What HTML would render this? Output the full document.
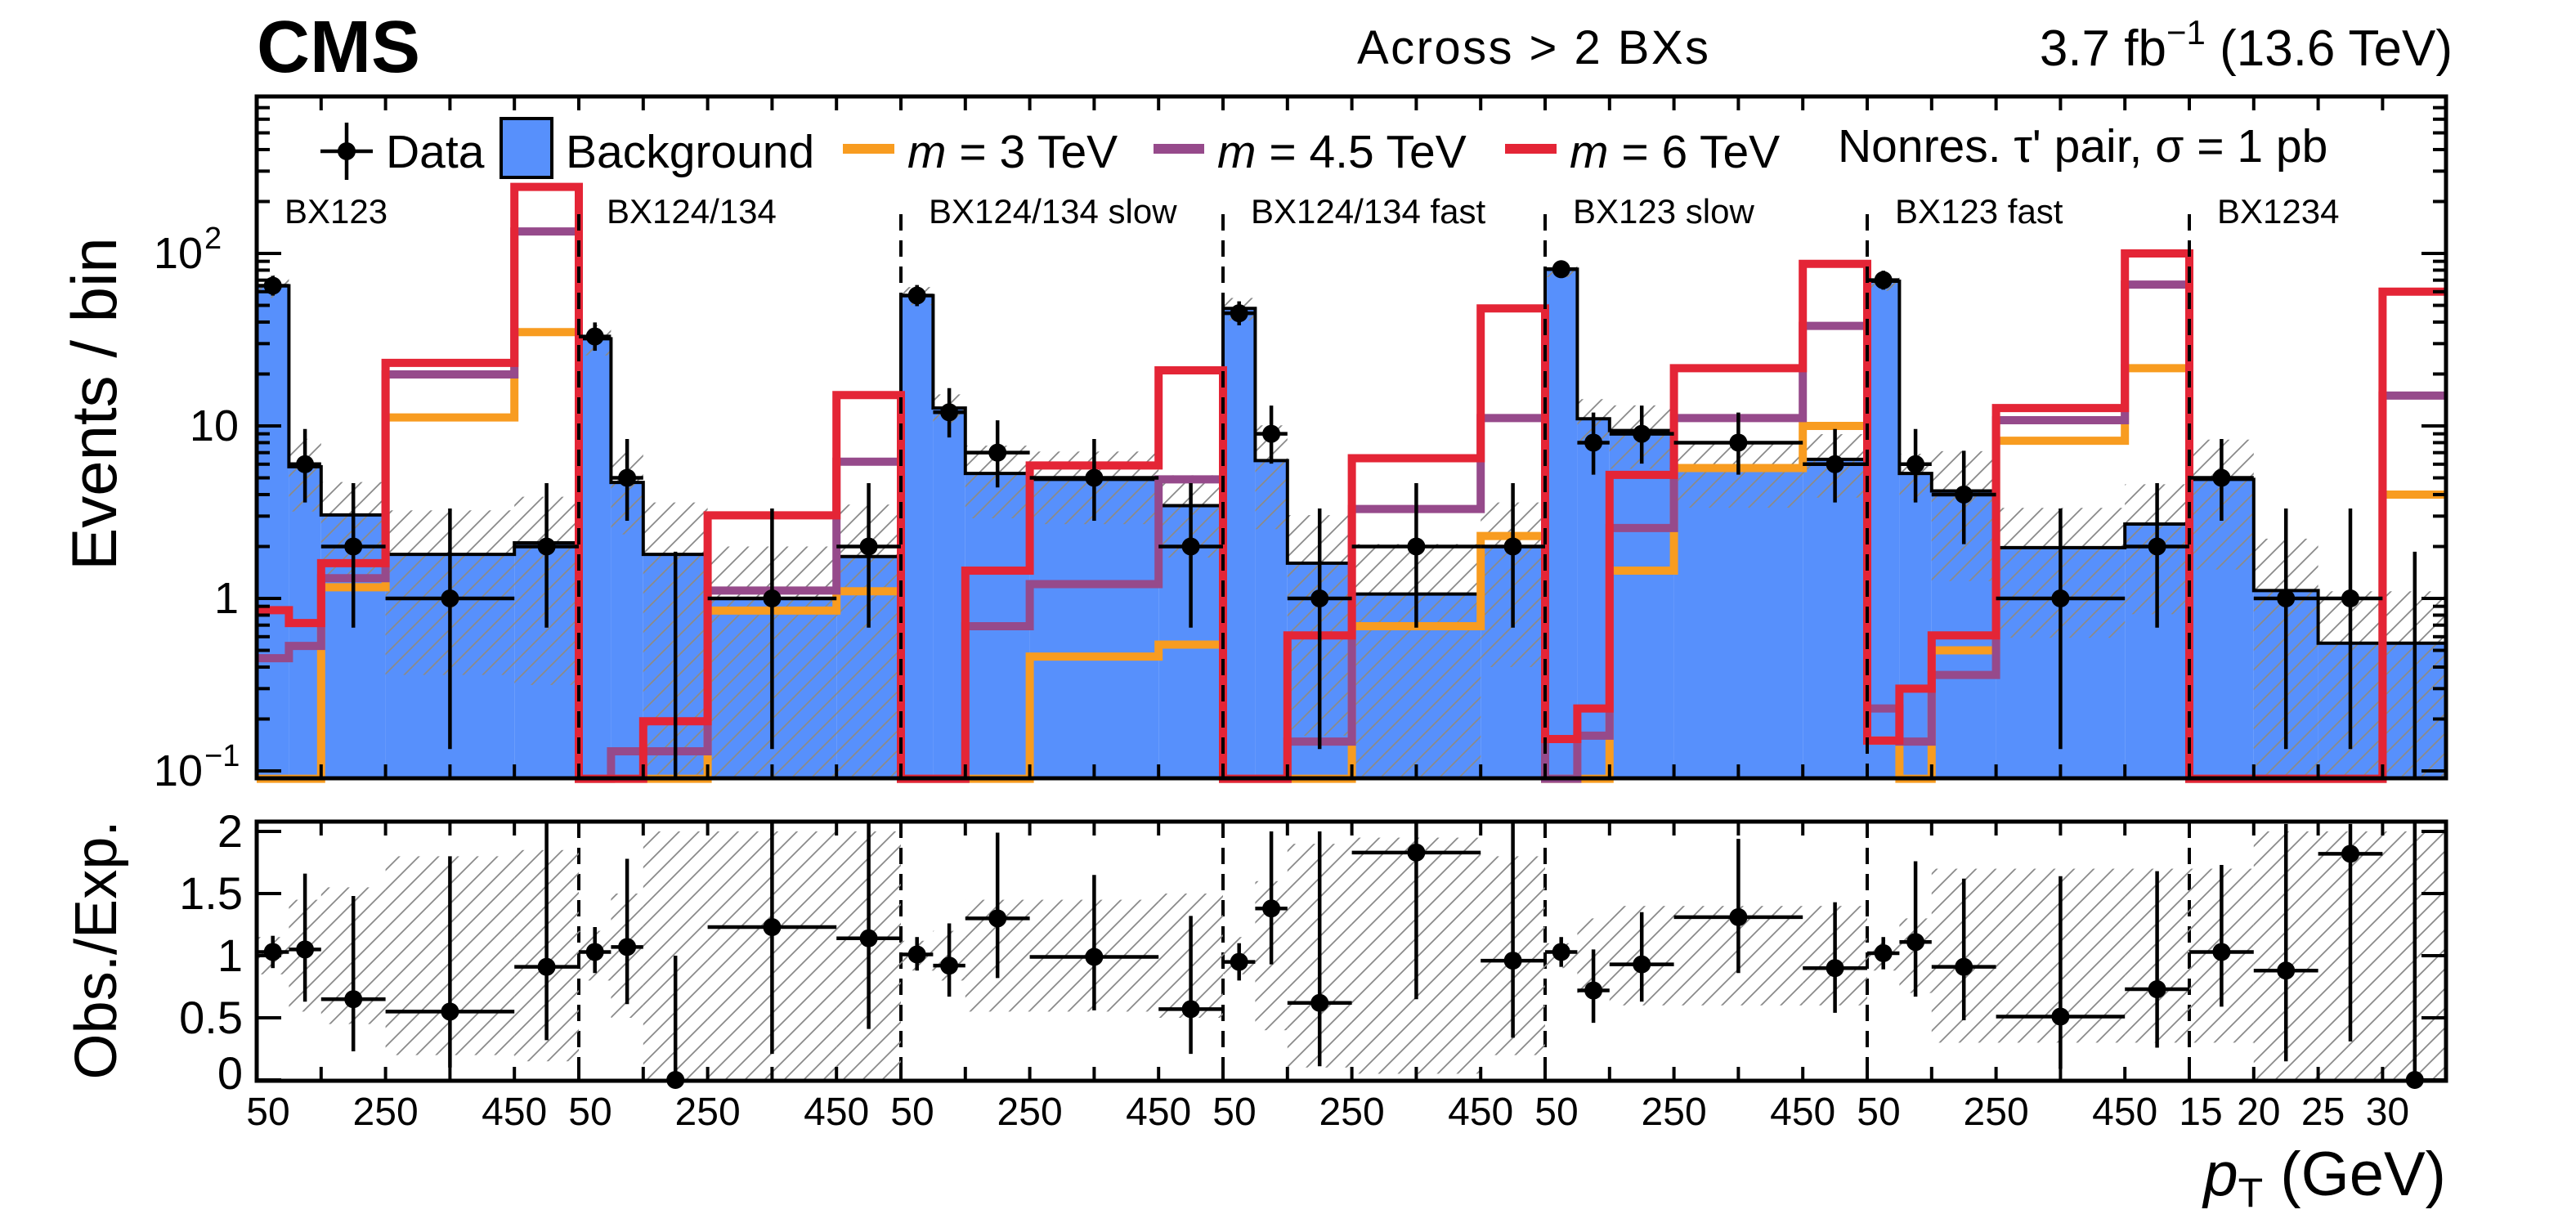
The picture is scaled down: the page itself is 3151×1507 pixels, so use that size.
<!DOCTYPE html>
<html><head><meta charset="utf-8"><style>
html,body{margin:0;padding:0;background:#fff}
svg{display:block;font-family:"Liberation Sans",Arial,sans-serif}
</style></head><body>
<svg id="chart" xmlns="http://www.w3.org/2000/svg" width="3151" height="1507" viewBox="0 0 3151 1507">
<defs>
<pattern id="hatch" patternUnits="userSpaceOnUse" width="24" height="24">
<path d="M-6,6 L6,-6 M0,24 L24,0 M18,30 L30,18" stroke="#8a8a8a" stroke-width="1.8"/>
</pattern>
<clipPath id="clipTop"><rect x="314" y="118" width="2678" height="834"/></clipPath>
<clipPath id="clipRat"><rect x="314" y="1005" width="2678" height="317"/></clipPath>
</defs>
<text x="314" y="88" font-size="90" font-weight="bold">CMS</text>
<text x="1875" y="78" font-size="58" text-anchor="middle" textLength="430">Across &gt; 2 BXs</text>
<text x="3000" y="80" font-size="62" text-anchor="end">3.7 fb<tspan dy="-26" font-size="42">−1</tspan><tspan dy="26"> (13.6 TeV)</tspan></text>
<text transform="translate(142,494) rotate(-90)" font-size="78" text-anchor="middle">Events / bin</text>
<text transform="translate(142,1162) rotate(-90)" font-size="72" text-anchor="middle" textLength="317">Obs./Exp.</text>
<text x="2992" y="1462" font-size="76" text-anchor="end"><tspan font-style="italic">p</tspan><tspan font-size="50" dy="14">T</tspan><tspan dy="-14"> (GeV)</tspan></text>
<g id="plot"></g>
</svg>
<script>
// ---- data ----
const regionNames = ["BX123","BX124/134","BX124/134 slow","BX124/134 fast","BX123 slow","BX123 fast","BX1234"];
const ptEdgesStd = [50,100,150,250,450,550];
const ptEdgesLast = [15,20,25,30,35];
const bgVals = [[65,5.8,3.05,1.8,2.1],[32,4.7,1.8,1.0,1.75],[57,12.7,5.3,4.9,3.45],[48,6.3,1.6,1.06,2.0],[81,11,9.4,5.6,6.4],[69,5.3,4.2,1.97,2.7],[4.9,1.11,0.55,0.55]];
const bgUnc = [[.15,.45,.55,.8,.85],[.2,.5,1,1,1],[.12,.2,.45,.45,.5],[.15,.6,.9,.95,.8],[.1,.3,.4,.4,.4],[.12,.3,.7,.7,.7],[.7,1,1,1]];
const dataVals = [[65,6,2,1,2],[33,5,0,1,2],[57,12,7,5,2],[45,9,1,2,2],[81,8,9,8,6],[70,6,4,1,2],[5,1,1,0]];
const sig3 = [[0.09,0.09,1.16,11.2,35],[0.09,0.09,0.09,0.85,1.1],[0.09,0.09,0.09,0.46,0.54],[0.09,0.09,0.09,0.69,2.3],[0.09,0.09,1.45,5.7,10],[0.15,0.09,0.5,8.2,21.6],[0.09,0.09,0.09,4.0]];
const sig45 = [[0.45,0.53,1.31,19.9,134],[0.09,0.13,0.13,1.11,6.2],[0.09,0.09,0.69,1.21,4.9],[0.09,0.09,0.148,3.3,11.1],[0.09,0.16,2.56,11.1,38],[0.23,0.148,0.36,10.8,66],[0.09,0.09,0.09,15]];
const sig6 = [[0.855,0.72,1.6,23.2,243],[0.09,0.09,0.194,3.03,15.1],[0.09,0.09,1.45,5.9,21],[0.09,0.09,0.61,6.5,48],[0.153,0.23,5.2,21.6,87],[0.15,0.3,0.61,12.7,100],[0.09,0.09,0.09,60]];
const ratioVals = [[1.03,1.05,0.65,0.55,0.91],[1.03,1.07,0,1.23,1.14],[1.01,0.92,1.30,0.99,0.57],[0.95,1.38,0.62,1.83,0.96],[1.03,0.72,0.93,1.31,0.90],[1.02,1.11,0.91,0.51,0.73],[1.03,0.88,1.82,0]];
const ratioHi = [[1.16,1.66,1.48,1.80,2.07],[1.23,1.78,1.0,2.08,2.08],[1.15,1.26,1.99,1.65,1.32],[1.10,2.0,2.0,2.07,2.07],[1.15,1.05,1.35,1.94,1.43],[1.15,1.76,1.62,1.64,1.68],[1.73,2.06,2.06,2.1]];
const ratioLo = [[0.90,0.63,0.23,0.10,0.32],[0.86,0.61,0,0.21,0.41],[0.88,0.67,0.82,0.56,0.21],[0.80,0.93,0.11,0.65,0.34],[0.91,0.46,0.63,0.86,0.54],[0.89,0.67,0.48,0.09,0.26],[0.59,0.15,0.31,0]];
const yTickLabels = ["10","1","10","10"];
const ratioTicks = [0,0.5,1,1.5,2];
const xTickLabelsStd = ["50","250","450"];
const xTickLabelsLast = ["15","20","25","30"];

// ---- axes ----
const X0=314, X1=2992, UNIT=78.8, TOP=118, BOT=952, RTOP=1005, RBOT=1322;
const NS="http://www.w3.org/2000/svg";
const plot=document.getElementById('plot');
function xAt(region, pt){
  const u = region<6 ? (pt-50)/100 : (pt-15)/5;
  return X0 + (region*5 + u)*UNIT;
}
function yLog(v){ return 943 - (Math.log10(v)+1)*211; }
function yR(r){ return 1321 - r*152; }
function el(tag, attrs, parent){
  const e=document.createElementNS(NS,tag);
  for(const k in attrs) e.setAttribute(k,attrs[k]);
  (parent||plot).appendChild(e); return e;
}
function edgesOf(r){ return r<6 ? ptEdgesStd : ptEdgesLast; }
const gTop=el('g',{'clip-path':'url(#clipTop)'});



regionNames.forEach((nm,r)=>{
  const E=edgesOf(r);
  bgVals[r].forEach((v,i)=>{
    const xa=xAt(r,E[i]), xb=xAt(r,E[i+1]);
    const b=el('rect',{x:xa,y:yLog(v),width:xb-xa,height:BOT+5-yLog(v),fill:'#5790fc'},gTop);
    
    
  });
});
regionNames.forEach((nm,r)=>{
  const E=edgesOf(r);
  bgVals[r].forEach((v,i)=>{
    const xa=xAt(r,E[i]), xb=xAt(r,E[i+1]);
    const hi=v*(1+bgUnc[r][i]), lo=Math.max(v*(1-bgUnc[r][i]),0.05);
    const h=el('rect',{x:xa,y:yLog(hi),width:xb-xa,height:yLog(lo)-yLog(hi),fill:'url(#hatch)'},gTop);
    
    
  });
});
function stepPath(vals, clampMin){
  let d='';
  vals.forEach((arr,r)=>{
    const E=edgesOf(r);
    arr.forEach((v,i)=>{
      const y=yLog(Math.max(v,clampMin));
      const xa=xAt(r,E[i]), xb=xAt(r,E[i+1]);
      d += (d===''?('M'+xa+','+y):(' L'+xa+','+y)) + ' L'+xb+','+y;
    });
  });
  return d;
}
const bgLine=el('path',{d:stepPath(bgVals,0.05),fill:'none',stroke:'#000','stroke-width':4},gTop);



const sigSeries=[[sig3,'#f89c20','signal-3tev'],[sig45,'#964a8b','signal-4p5tev'],[sig6,'#e42536','signal-6tev']];
sigSeries.forEach(s=>{
  const p=el('path',{d:stepPath(s[0],0.05),fill:'none',stroke:s[1],'stroke-width':10,'stroke-linejoin':'miter'});
  
  
});

for(let r=1;r<7;r++){
  const x=X0+r*5*UNIT;
  const d1=el('line',{x1:x,x2:x,y1:262,y2:BOT,stroke:'#000','stroke-width':4,'stroke-dasharray':'20,12'});
  
  
  const d2=el('line',{x1:x,x2:x,y1:RTOP,y2:RBOT,stroke:'#000','stroke-width':4,'stroke-dasharray':'20,12'});
  
  
}
regionNames.forEach((nm,r)=>{
  const t=el('text',{x:X0+r*5*UNIT+34,y:273,'font-size':42});
  t.textContent=nm;
  
  
});

const gData=el('g',{'clip-path':'url(#clipTop)'});


dataVals.forEach((arr,r)=>{
  const E=edgesOf(r);
  arr.forEach((n,i)=>{
    const xa=xAt(r,E[i]), xb=xAt(r,E[i+1]), xc=(xa+xb)/2;
    const hi=n+Math.sqrt(n+0.75)+1, lo=n>0?n-Math.sqrt(n-0.25):0.01;
    const v=el('line',{x1:xc,x2:xc,y1:yLog(hi),y2:yLog(Math.max(lo,0.01)),stroke:'#000','stroke-width':4.5},gData);
    
    
    if(n>0){
      const h=el('line',{x1:xa,x2:xb,y1:yLog(n),y2:yLog(n),stroke:'#000','stroke-width':4.5},gData);
      
      
      const c=el('circle',{cx:xc,cy:yLog(n),r:11,fill:'#000'},gData);
      
      
    }
  });
});

const gRat=el('g',{'clip-path':'url(#clipRat)'});


ratioVals.forEach((arr,r)=>{
  const E=edgesOf(r);
  arr.forEach((v,i)=>{
    const xa=xAt(r,E[i]), xb=xAt(r,E[i+1]);
    const u=bgUnc[r][i];
    const hh=el('rect',{x:xa,y:yR(Math.min(1+u,2.1)),width:xb-xa,height:yR(Math.max(1-u,-0.02))-yR(Math.min(1+u,2.1)),fill:'url(#hatch)'},gRat);
    
    
  });
});
const gRatP=el('g',{});


ratioVals.forEach((arr,r)=>{
  const E=edgesOf(r);
  arr.forEach((v,i)=>{
    const xa=xAt(r,E[i]), xb=xAt(r,E[i+1]), xc=(xa+xb)/2;
    const vb=el('line',{x1:xc,x2:xc,y1:yR(Math.min(ratioHi[r][i],2.08)),y2:yR(ratioLo[r][i]),stroke:'#000','stroke-width':4.5},gRatP);
    
    
    if(v>0){
      const hb=el('line',{x1:xa,x2:xb,y1:yR(v),y2:yR(v),stroke:'#000','stroke-width':4.5},gRatP);
      
      
    }
    const c=el('circle',{cx:xc,cy:yR(v),r:11,fill:'#000'},gRatP);
    
    
  });
});

const f1=el('rect',{x:X0,y:TOP,width:X1-X0,height:BOT-TOP,fill:'none',stroke:'#000','stroke-width':5});


const f2=el('rect',{x:X0,y:RTOP,width:X1-X0,height:RBOT-RTOP,fill:'none',stroke:'#000','stroke-width':5});



for(let u=1;u<34;u++){
  const x=X0+u*UNIT;
  [[TOP,TOP+17],[BOT-17,BOT],[RTOP,RTOP+17],[RBOT-17,RBOT]].forEach(p=>{
    const t=el('line',{x1:x,x2:x,y1:p[0],y2:p[1],stroke:'#000','stroke-width':4});
    
    
  });
}
regionNames.forEach((nm,r)=>{
  const labs = r<6 ? xTickLabelsStd : xTickLabelsLast;
  labs.forEach((lab,k)=>{
    let x = xAt(r, parseFloat(lab));
    if(k===0) x += 14; else if(r===6) x += 6;
    const t=el('text',{x:x,y:1376,'font-size':48,'text-anchor':'middle'});
    t.textContent=lab;
    
    
  });
});
for(let d=-1; d<=2; d++){
  for(let m=1;m<=9;m++){
    const v=m*Math.pow(10,d);
    const y=yLog(v);
    if(y<TOP+2) continue;
    const len = m===1?30:16;
    [[X0,X0+len],[X1-len,X1]].forEach(p=>{
      const t=el('line',{x1:p[0],x2:p[1],y1:y,y2:y,stroke:'#000','stroke-width':4});
      
      
    });
  }
}
yTickLabels.forEach((lab,k)=>{
  const d=k-1;
  const y=yLog(Math.pow(10,d))+18;
  const t=el('text',{x:d===0?292:(d===1?292:248),y:y,'font-size':54,'text-anchor':'end'});
  t.textContent=lab;
  
  
  if(d!==0 && d!==1){
    const s=el('text',{x:250,y:y-24,'font-size':38});
    s.textContent = d===-1 ? '−1' : '2';
    
    
  }
});
ratioTicks.forEach(r=>{
  const y=yR(r);
  [[X0,X0+30],[X1-30,X1]].forEach(p=>{
    const t=el('line',{x1:p[0],x2:p[1],y1:y,y2:y,stroke:'#000','stroke-width':4});
    
    
  });
  const l=el('text',{x:297,y:Math.min(y+19,1332),'font-size':56,'text-anchor':'end'});
  l.textContent=String(r);
  
  
});

const lg=el('g',{});


const ly=185;
let a=el('line',{x1:392,x2:456,y1:ly,y2:ly,stroke:'#000','stroke-width':4.5},lg);
 
a=el('line',{x1:424,x2:424,y1:150,y2:220,stroke:'#000','stroke-width':4.5},lg);
 
a=el('circle',{cx:424,cy:ly,r:11,fill:'#000'},lg);
 
a=el('text',{x:472,y:205,'font-size':57},lg); a.textContent='Data';
 
a=el('rect',{x:613,y:145,width:62,height:72,fill:'#5790fc',stroke:'#000','stroke-width':4},lg);
 
a=el('text',{x:692,y:205,'font-size':57},lg); a.textContent='Background';
 
const legSig=[[1031,1094,1110,'#f89c20','3 TeV'],[1411,1473,1489,'#964a8b','4.5 TeV'],[1841,1904,1920,'#e42536','6 TeV']];
legSig.forEach(s=>{
  const l=el('line',{x1:s[0],x2:s[1],y1:ly-3,y2:ly-3,stroke:s[3],'stroke-width':12},lg);
  
  
  const t=el('text',{x:s[2],y:205,'font-size':57},lg);
  t.innerHTML='<tspan font-style="italic">m</tspan> = '+s[4];
  
  
});
a=el('text',{x:2248,y:198,'font-size':57},lg); a.textContent="Nonres. τ' pair, σ = 1 pb";
 
</script>
</body></html>
